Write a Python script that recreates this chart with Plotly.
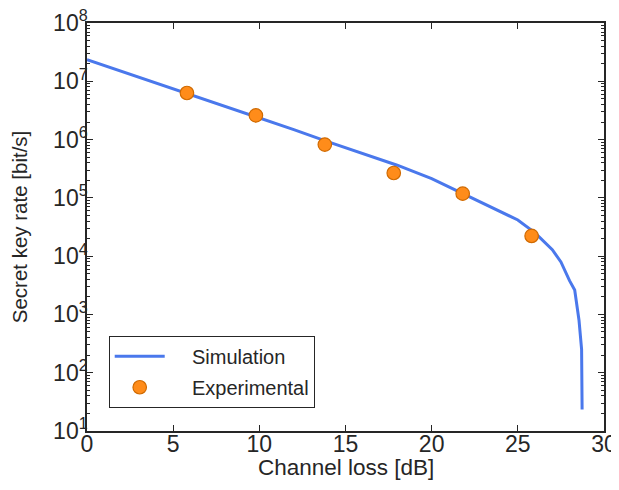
import plotly.graph_objects as go

# Simulation curve
sim_loss = [0, 2, 4, 6, 8, 10, 12, 14, 16, 18, 20, 22, 24, 25, 26, 27, 27.5, 28, 28.3, 28.55, 28.7, 28.73]
sim_rate = [2.34e7, 1.48e7, 9.33e6, 5.89e6, 3.72e6, 2.34e6, 1.48e6, 9.12e5, 5.75e5, 3.63e5,
            2.14e5, 1.12e5, 5.89e4, 4.17e4, 2.51e4, 1.29e4, 7.94e3, 3.80e3, 2.63e3, 794, 251, 23.4]

# Experimental points
exp_loss = [5.8, 9.8, 13.8, 17.8, 21.8, 25.8]
exp_rate = [6.3e6, 2.6e6, 8.2e5, 2.67e5, 1.18e5, 2.22e4]

x_ticks = [0, 5, 10, 15, 20, 25, 30]
y_tickvals = [1e1, 1e2, 1e3, 1e4, 1e5, 1e6, 1e7, 1e8]
y_ticktext = ["10<sup>1</sup>", "10<sup>2</sup>", "10<sup>3</sup>", "10<sup>4</sup>",
              "10<sup>5</sup>", "10<sup>6</sup>", "10<sup>7</sup>", "10<sup>8</sup>"]
y_minor = [m * d for d in [1e1, 1e2, 1e3, 1e4, 1e5, 1e6, 1e7] for m in range(2, 10)]

TXT = "#262626"
FONT = "Liberation Sans, Arial, sans-serif"
PAD = "\u00a0\u00a0\u00a0\u00a0"

fig = go.Figure()
fig.add_trace(go.Scatter(x=sim_loss, y=sim_rate, mode="lines", name=PAD + "Simulation",
                         legendgroup="a",
                         line=dict(color="#4A78EC", width=3)))
fig.add_trace(go.Scatter(x=exp_loss, y=exp_rate, mode="markers", name=PAD + "Experimental",
                         legendgroup="b",
                         marker=dict(size=13.5, color="#FF8C1A",
                                     line=dict(color="#D06A00", width=1.2))))

fig.update_layout(
    width=611, height=482,
    margin=dict(l=79, r=15, t=15, b=59),
    paper_bgcolor="white", plot_bgcolor="white",
    font=dict(family=FONT, size=22, color=TXT),
    showlegend=True,
    legend=dict(x=0.042, y=0.057, xanchor="left", yanchor="bottom",
                bordercolor=TXT, borderwidth=1, bgcolor="white",
                font=dict(size=20, color=TXT), tracegroupgap=2, itemwidth=50),
    annotations=[dict(text="Channel loss [dB]", x=0.5, y=-0.090, xref="paper", yref="paper",
                      xanchor="center", yanchor="middle", showarrow=False,
                      font=dict(size=22.5, color=TXT, family=FONT))],
)
fig.update_xaxes(
    range=[0, 30], tickvals=x_ticks, ticks="inside", ticklen=6, tickwidth=1.2,
    tickcolor=TXT, showline=True, linecolor=TXT, linewidth=1.5, mirror="allticks",
    showgrid=False, zeroline=False, automargin=False, ticklabelstandoff=-8,
    ticklabeloverflow="allow",
    tickfont=dict(size=23),
)
fig.update_yaxes(
    type="log", range=[1, 8], tickvals=y_tickvals, ticktext=y_ticktext,
    ticks="inside", ticklen=6, tickwidth=1.2, tickcolor=TXT,
    showline=True, linecolor=TXT, linewidth=1.5, mirror="allticks",
    showgrid=False, zeroline=False, automargin=False, ticklabelstandoff=-7,
    ticklabeloverflow="allow",
    minor=dict(tickmode="array", tickvals=y_minor, ticks="inside", ticklen=3,
               tickwidth=1, tickcolor=TXT, showgrid=False),
    title=dict(text="Secret key rate [bit/s]", standoff=21, font=dict(size=20.5)),
    tickfont=dict(size=23),
)

fig.write_html("out.html")
